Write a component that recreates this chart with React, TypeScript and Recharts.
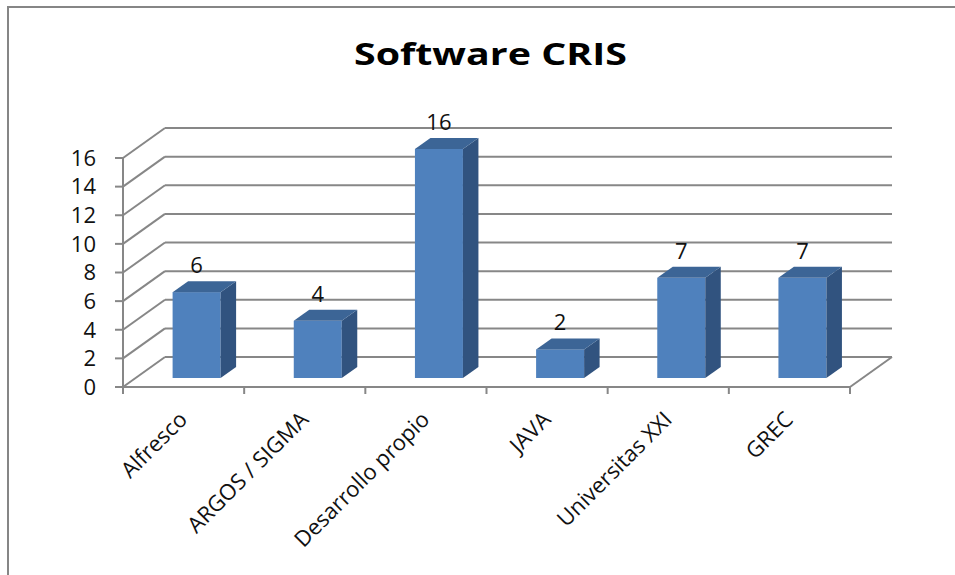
import React from 'react';
import { BarChart, Bar, XAxis, YAxis, CartesianGrid, LabelList } from 'recharts';

const categories = ['Alfresco', 'ARGOS / SIGMA', 'Desarrollo propio', 'JAVA', 'Universitas XXI', 'GREC'];
const values = [6, 4, 16, 2, 7, 7];
const yTicks = [0, 2, 4, 6, 8, 10, 12, 14, 16];
const title = 'Software CRIS';

const data = categories.map((name, i) => ({ name, value: values[i] }));

const W = 955;
const H = 575;
const PLOT_LEFT = 123;
const PLOT_RIGHT = 850;
const PLOT_TOP = 158;
const PLOT_BOTTOM = 387;
const WALL_DX = 42;
const WALL_DY = 30;
const FRONT_DX = 12.6;
const FRONT_DY = 9;
const DEPTH_DX = 15.5;
const DEPTH_DY = 11;
const GRID = '#878787';
const FONT = "'Open Sans', sans-serif";

function GridLine(props: any) {
  const { x1, y1, x2, y, height, index } = props;
  const isFloor = Math.abs(y1 - (y + height)) < 0.5;
  return (
    <g key={`grid-${index}`}>
      <line x1={x1} y1={y1} x2={x1 + WALL_DX} y2={y1 - WALL_DY} stroke={GRID} strokeWidth={2} />
      <line x1={x1 + WALL_DX} y1={y1 - WALL_DY} x2={x2 + WALL_DX} y2={y1 - WALL_DY} stroke={GRID} strokeWidth={2} />
      {isFloor && (
        <line x1={x2} y1={y1} x2={x2 + WALL_DX} y2={y1 - WALL_DY} stroke={GRID} strokeWidth={2} />
      )}
    </g>
  );
}

function Bar3D(props: any) {
  const { x, y, width, height } = props;
  if (!height || height <= 0) return null;
  const fx = x + FRONT_DX;
  const fy = y - FRONT_DY;
  const top = `${fx},${fy} ${fx + DEPTH_DX},${fy - DEPTH_DY} ${fx + width + DEPTH_DX},${fy - DEPTH_DY} ${fx + width},${fy}`;
  const side = `${fx + width},${fy} ${fx + width + DEPTH_DX},${fy - DEPTH_DY} ${fx + width + DEPTH_DX},${fy + height - DEPTH_DY} ${fx + width},${fy + height}`;
  return (
    <g>
      <rect x={fx} y={fy} width={width} height={height} fill="#4F81BD" />
      <polygon points={side} fill="#31537F" />
      <polygon points={top} fill="#3C6596" />
    </g>
  );
}

function ValueLabel(props: any) {
  const { x, y, width, value } = props;
  return (
    <text
      x={Number(x) + Number(width) / 2 + FRONT_DX}
      y={Number(y) - FRONT_DY - 19}
      textAnchor="middle"
      fontFamily={FONT}
      fontSize={22}
      fill="#111"
    >
      {value}
    </text>
  );
}

function XTick(props: any) {
  const { x, y, payload, index } = props;
  const half = (PLOT_RIGHT - PLOT_LEFT) / categories.length / 2;
  const ax = x + 5;
  const ay = y + 34;
  return (
    <g>
      <line x1={x - half} y1={y} x2={x - half} y2={y + 7} stroke={GRID} strokeWidth={2} />
      {index === categories.length - 1 && (
        <line x1={x + half} y1={y} x2={x + half} y2={y + 7} stroke={GRID} strokeWidth={2} />
      )}
      <text
        x={ax}
        y={ay}
        transform={`rotate(-45, ${ax}, ${ay})`}
        textAnchor="end"
        fontFamily={FONT}
        fontSize={22}
        fill="#111"
      >
        {payload.value}
      </text>
    </g>
  );
}

export default function App() {
  return (
    <div style={{ position: 'absolute', left: 0, top: 0, width: W, height: H, overflow: 'hidden', background: '#fff' }}>
      <div
        style={{
          position: 'absolute',
          left: 7,
          top: 6,
          width: W + 20,
          height: H + 20,
          borderTop: '2px solid #868686',
          borderLeft: '2px solid #868686',
        }}
      />
      <div
        style={{
          position: 'absolute',
          left: 0,
          top: 32,
          width: 980,
          textAlign: 'center',
          lineHeight: '42px',
        }}
      >
        <span
          style={{
            display: 'inline-block',
            transform: 'scaleX(1.27)',
            fontFamily: FONT,
            fontWeight: 700,
            fontSize: 31,
            color: '#000',
          }}
        >
          {title}
        </span>
      </div>
      <div style={{ position: 'absolute', left: 0, top: 0 }}>
        <BarChart
          width={W}
          height={H}
          data={data}
          margin={{ top: PLOT_TOP, right: W - PLOT_RIGHT, left: 0, bottom: 0 }}
          barSize={48}
        >
          <CartesianGrid vertical={false} horizontal={GridLine as any} />
          <XAxis
            dataKey="name"
            type="category"
            height={H - PLOT_BOTTOM}
            interval={0}
            tickLine={false}
            tickSize={0}
            tickMargin={0}
            axisLine={{ stroke: GRID, strokeWidth: 2 }}
            tick={<XTick />}
          />
          <YAxis
            type="number"
            width={PLOT_LEFT}
            domain={[0, 16]}
            ticks={yTicks}
            interval={0}
            tickSize={8}
            tickMargin={19}
            axisLine={{ stroke: GRID, strokeWidth: 2 }}
            tickLine={{ stroke: GRID, strokeWidth: 2 }}
            tick={{ fontFamily: FONT, fontSize: 22, fill: '#111' }}
          />
          <Bar dataKey="value" isAnimationActive={false} shape={(p: any) => <Bar3D {...p} />}>
            <LabelList dataKey="value" content={<ValueLabel />} />
          </Bar>
        </BarChart>
      </div>
    </div>
  );
}
